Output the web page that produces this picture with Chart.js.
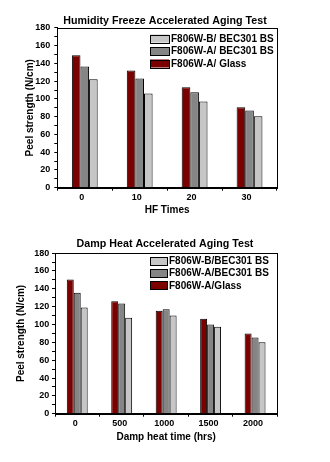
<!DOCTYPE html>
<html>
<head>
<meta charset="utf-8">
<title>Peel strength aging tests</title>
<script src="https://cdn.jsdelivr.net/npm/chart.js@4.4.1/dist/chart.umd.min.js"></script>
<style>
    html, body { margin: 0; padding: 0; background: #fff; }
    canvas { display: block; }
</style>
</head>
<body>
<canvas id="hfChart" width="330" height="231"></canvas>
<canvas id="dhChart" width="330" height="231"></canvas>
<script>
/* ========================================
   Data
   ======================================== */

// Humidity freeze test (HF cycles)
const hfTimes = ['0', '10', '20', '30'];
const hfGlass = [149, 132, 113, 90.5];
const hfBsA = [136.5, 123, 107.5, 87];
const hfBsB = [122, 106, 97, 80.5];

// Damp heat test (hours)
const dhTimes = ['0', '500', '1000', '1500', '2000'];
const dhGlass = [150.5, 126, 115.5, 106.5, 90];
const dhBsA = [135.5, 123.5, 117, 100, 85.5];
const dhBsB = [119, 107.5, 110, 97.5, 80];

// y axis: 0..180, labels every 20, minor ticks every 10
const yMin = 0;
const yMax = 180;
const yMinorStep = 10;
const yLabelStep = 20;

const RED = '#7b0000';
const GRAY = '#858585';
const LIGHT = '#c6c6c6';
const FONT = "'Liberation Sans', Arial, sans-serif";

// black box around the plot area
const framePlugin = {
    id: 'frame',
    afterDatasetsDraw(chart) {
        const a = chart.chartArea;
        const ctx = chart.ctx;
        ctx.save();
        ctx.strokeStyle = '#000';
        ctx.lineWidth = 1;
        ctx.strokeRect(Math.round(a.left) + 0.5, Math.round(a.top) + 0.5,
            Math.round(a.right - a.left), Math.round(a.bottom - a.top));
        ctx.restore();
    }
};

// legend sitting inside the plot, listed in reverse order
const insideLegend = {
    id: 'insideLegend',
    afterDraw(chart, args, opts) {
        const ctx = chart.ctx;
        const sets = chart.data.datasets.slice().reverse();
        ctx.save();
        ctx.font = 'bold ' + opts.fontSize + 'px ' + FONT;
        ctx.textBaseline = 'middle';
        ctx.textAlign = 'left';
        sets.forEach((ds, i) => {
            const cy = opts.y + i * opts.rowGap;
            ctx.fillStyle = ds.backgroundColor;
            ctx.fillRect(opts.x, cy - opts.boxH / 2, opts.boxW, opts.boxH);
            ctx.strokeStyle = '#000';
            ctx.lineWidth = 1;
            ctx.strokeRect(opts.x + 0.5, Math.round(cy - opts.boxH / 2) + 0.5, opts.boxW, opts.boxH);
            ctx.fillStyle = '#000';
            ctx.fillText(ds.label, opts.x + opts.boxW + 2, cy + 0.5);
        });
        ctx.restore();
    }
};

function barSet(label, data, color) {
    return {
        label: label,
        data: data,
        backgroundColor: color,
        borderColor: '#000',
        borderWidth: 1,
        barPercentage: 1,
        categoryPercentage: 0.47
    };
}

function makeChart(id, labels, datasets, cfg) {
    const ctx = document.getElementById(id);
    return new Chart(ctx, {
        type: 'bar',
        data: { labels: labels, datasets: datasets },
        plugins: [framePlugin, insideLegend],
        options: {
            responsive: false,
            animation: false,
            layout: { padding: 0 },
            plugins: {
                legend: { display: false },
                tooltip: { enabled: false },
                title: {
                    display: true,
                    text: cfg.title,
                    color: '#000',
                    font: { family: FONT, size: 10.7, weight: 'bold' },
                    padding: { top: cfg.titleTop, bottom: cfg.titleBottom }
                },
                insideLegend: cfg.legend
            },
            scales: {
                x: {
                    afterFit: s => { s.height = cfg.xHeight; },
                    grid: { drawOnChartArea: false, tickLength: 3, color: '#000' },
                    border: { color: '#000' },
                    ticks: {
                        color: '#000',
                        padding: 1,
                        labelOffset: cfg.labelShift,
                        font: { family: FONT, size: 9, weight: 'bold' }
                    },
                    title: {
                        display: true,
                        text: cfg.xTitle,
                        color: '#000',
                        font: { family: FONT, size: 10, weight: 'bold' },
                        padding: { top: 0, bottom: cfg.xTitleBottom }
                    }
                },
                y: {
                    min: yMin,
                    max: yMax,
                    afterFit: s => { s.width = cfg.yWidth; },
                    grid: { drawOnChartArea: false, tickLength: 3, color: '#000' },
                    border: { color: '#000' },
                    ticks: {
                        stepSize: yMinorStep,
                        autoSkip: false,
                        color: '#000',
                        padding: cfg.yPad,
                        font: { family: FONT, size: 9, weight: 'bold' },
                        callback: v => (v % yLabelStep === 0 ? v : '')
                    },
                    title: {
                        display: true,
                        text: 'Peel strength (N/cm)',
                        color: '#000',
                        font: { family: FONT, size: 10, weight: 'bold' },
                        padding: { top: cfg.yTitleLeft, bottom: 0 }
                    }
                },
                // empty right-hand margin so the title stays centred on the page
                spacer: {
                    type: 'linear',
                    position: 'right',
                    grid: { display: false },
                    border: { display: false },
                    ticks: { display: false },
                    afterFit: s => { s.width = cfg.padRight; }
                }
            }
        }
    });
}

makeChart('hfChart', hfTimes, [
    barSet('F806W-A/ Glass', hfGlass, RED),
    barSet('F806W-A/ BEC301 BS', hfBsA, GRAY),
    barSet('F806W-B/ BEC301 BS', hfBsB, LIGHT)
], {
    title: 'Humidity Freeze Accelerated Aging Test',
    xTitle: 'HF Times',
    padRight: 53,
    titleTop: 14.5,
    titleBottom: 0.5,
    xHeight: 43.3,
    xTitleBottom: 15,
    labelShift: -3,
    yWidth: 57.3,
    yPad: 4,
    yTitleLeft: 24,
    legend: { x: 150, y: 38.5, rowGap: 12.5, boxW: 19, boxH: 8, fontSize: 10 }
});

makeChart('dhChart', dhTimes, [
    barSet('F806W-A/Glass', dhGlass, RED),
    barSet('F806W-A/BEC301 BS', dhBsA, GRAY),
    barSet('F806W-B/BEC301 BS', dhBsB, LIGHT)
], {
    title: 'Damp Heat Accelerated Aging Test',
    xTitle: 'Damp heat time (hrs)',
    padRight: 52.7,
    titleTop: 6.3,
    titleBottom: 3,
    xHeight: 48.3,
    xTitleBottom: 18.7,
    labelShift: -2,
    yWidth: 55,
    yPad: 2.7,
    yTitleLeft: 15.7,
    legend: { x: 150, y: 30, rowGap: 12.2, boxW: 17, boxH: 8, fontSize: 10 }
});
</script>
</body>
</html>
